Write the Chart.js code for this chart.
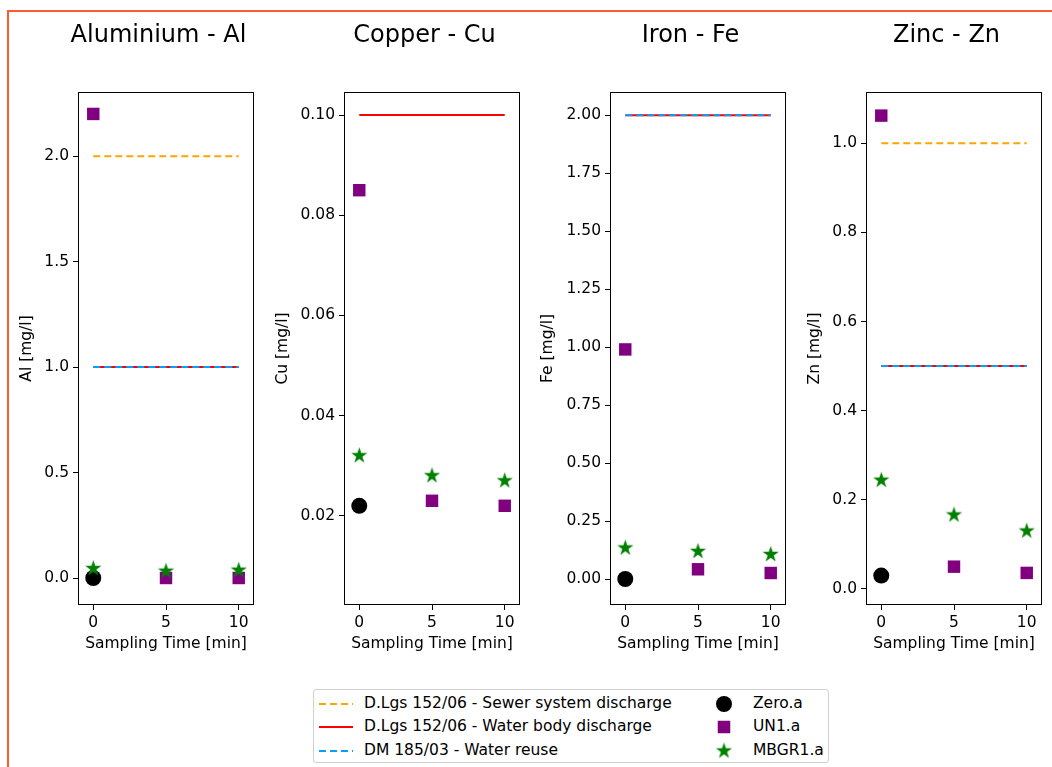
<!DOCTYPE html>
<html>
<head>
<meta charset="utf-8">
<script src="https://cdn.jsdelivr.net/npm/chart.js@4.4.1/dist/chart.umd.min.js"></script>
<style>
  body { margin: 0; background: #fff; width: 1052px; height: 767px; position: relative; overflow: hidden; font-family: 'DejaVu Sans', sans-serif; }
  #frameTop { position: absolute; left: 7px; top: 10px; width: 1045px; height: 2px; background: #ff5a30; }
  #frameLeft { position: absolute; left: 7px; top: 10px; width: 2px; height: 757px; background: #ff5a30; }
  canvas.panel { position: absolute; top: 0; }
  #legend { position: absolute; left: 313px; top: 689px; width: 516px; height: 74px; border: 1px solid #d0d0d0; border-radius: 3px; box-sizing: border-box; font-size: 15.5px; color: #000; }
  #legend .item { position: absolute; white-space: nowrap; line-height: 19px; }
  #legend canvas { position: absolute; }
</style>
</head>
<body>
<div id="frameTop"></div>
<div id="frameLeft"></div>
<canvas id="c0" class="panel"></canvas>
<canvas id="c1" class="panel"></canvas>
<canvas id="c2" class="panel"></canvas>
<canvas id="c3" class="panel"></canvas>
<div id="legend"></div>
<script>
// sampling times and names
const times = [0, 5, 10];
const zeroTimes = [0];
const panelTitles = ['Aluminium - Al', 'Copper - Cu', 'Iron - Fe', 'Zinc - Zn'];
const yLabels = ['Al [mg/l]', 'Cu [mg/l]', 'Fe [mg/l]', 'Zn [mg/l]'];
const xLabel = 'Sampling Time [min]';
const limitNames = ['D.Lgs 152/06 - Sewer system discharge', 'D.Lgs 152/06 - Water body discharge', 'DM 185/03 - Water reuse'];
const seriesNames = ['Zero.a', 'UN1.a', 'MBGR1.a'];

// limits: [sewer, water body, reuse]
const limitsAl = [2.0, 1.0, 1.0];
const limitsCu = [null, 0.10, null];
const limitsFe = [null, 2.0, 2.0];
const limitsZn = [1.0, 0.5, 0.5];

// measured values
const zeroAl = [0.0];
const un1Al = [2.2, 0.0, 0.0];
const mbgrAl = [0.045, 0.032, 0.037];

const zeroCu = [0.022];
const un1Cu = [0.085, 0.023, 0.022];
const mbgrCu = [0.032, 0.028, 0.027];

const zeroFe = [0.0];
const un1Fe = [0.99, 0.042, 0.026];
const mbgrFe = [0.134, 0.119, 0.106];

const zeroZn = [0.030];
const un1Zn = [1.062, 0.050, 0.036];
const mbgrZn = [0.244, 0.166, 0.130];

// tick labels
const xTicks = [0, 5, 10];
const ticksAl = [0, 0.5, 1.0, 1.5, 2.0];
const ticksCu = [0.02, 0.04, 0.06, 0.08, 0.10];
const ticksFe = [0, 0.25, 0.5, 0.75, 1.0, 1.25, 1.5, 1.75, 2.0];
const ticksZn = [0, 0.2, 0.4, 0.6, 0.8, 1.0];

const panels = [
  { limits: limitsAl, zero: zeroAl, un1: un1Al, mbgr: mbgrAl, ticks: ticksAl, dec: 1, yMin: -0.128, yMax: 2.304 },
  { limits: limitsCu, zero: zeroCu, un1: un1Cu, mbgr: mbgrCu, ticks: ticksCu, dec: 2, yMin: 0.0022, yMax: 0.1046 },
  { limits: limitsFe, zero: zeroFe, un1: un1Fe, mbgr: mbgrFe, ticks: ticksFe, dec: 2, yMin: -0.112, yMax: 2.10 },
  { limits: limitsZn, zero: zeroZn, un1: un1Zn, mbgr: mbgrZn, ticks: ticksZn, dec: 1, yMin: -0.036, yMax: 1.115 }
];

// placement of the four canvases
const boxes = [
  { left: 14, yW: 64 },
  { left: 270, yW: 74 },
  { left: 535, yW: 75 },
  { left: 802, yW: 64 }
];
const plotW = 176, plotTop = 92, plotBottom = 605, xAxisH = 52, padR = 10;

const limitColors = ['orange', 'red', '#0a9ff5'];
const limitDash = [[7, 4], [], [7, 4]];
const seriesColors = ['black', 'purple', 'green'];

Chart.defaults.font.family = "'DejaVu Sans', sans-serif";
Chart.defaults.font.size = 15.5;
Chart.defaults.color = '#000';

function makeStar(R, color) {
  const c = document.createElement('canvas');
  const s = Math.ceil(R * 2 + 2);
  c.width = s; c.height = s;
  const g = c.getContext('2d');
  g.fillStyle = color;
  g.beginPath();
  for (let k = 0; k < 10; k++) {
    const r = k % 2 ? R * 0.382 : R;
    const a = -Math.PI / 2 + k * Math.PI / 5;
    g.lineTo(s / 2 + r * Math.cos(a), s / 2 + r * Math.sin(a));
  }
  g.closePath();
  g.fill();
  return c;
}
const starImg = makeStar(8.5, 'green');

const panelDeco = {
  id: 'panelDeco',
  afterDraw(chart) {
    const { ctx, chartArea: a } = chart;
    ctx.save();
    ctx.strokeStyle = '#000';
    ctx.lineWidth = 1;
    ctx.strokeRect(Math.round(a.left) + 0.5, Math.round(a.top) + 0.5, Math.round(a.right - a.left) - 1, Math.round(a.bottom - a.top) - 1);
    ctx.font = "24px 'DejaVu Sans', sans-serif";
    ctx.fillStyle = '#000';
    ctx.textAlign = 'center';
    ctx.textBaseline = 'alphabetic';
    ctx.fillText(chart.options.plugins.panelDeco.title, (a.left + a.right) / 2 - 7.5, 42);
    ctx.restore();
  }
};

function pts(xs, ys) {
  return ys.map((v, i) => ({ x: xs[i], y: v }));
}

panels.forEach((p, i) => {
  const b = boxes[i];
  const cv = document.getElementById('c' + i);
  const w = b.yW + plotW + padR;
  const h = plotBottom + xAxisH;
  cv.width = w; cv.height = h;
  cv.style.left = b.left + 'px';
  cv.style.width = w + 'px';
  cv.style.height = h + 'px';

  const datasets = [];
  p.limits.forEach((v, k) => {
    if (v === null) return;
    datasets.push({
      label: limitNames[k],
      data: [{ x: times[0], y: v }, { x: times[times.length - 1], y: v }],
      showLine: true,
      borderColor: limitColors[k],
      borderWidth: 2,
      borderDash: limitDash[k],
      pointRadius: 0,
      order: 5 - k
    });
  });
  datasets.push({
    label: seriesNames[0], data: pts(zeroTimes, p.zero),
    pointStyle: 'circle', pointRadius: 8, backgroundColor: seriesColors[0], borderColor: seriesColors[0], borderWidth: 0, order: 2
  });
  datasets.push({
    label: seriesNames[1], data: pts(times, p.un1),
    pointStyle: 'rect', pointRadius: 8.8, backgroundColor: seriesColors[1], borderColor: seriesColors[1], borderWidth: 0, order: 1
  });
  datasets.push({
    label: seriesNames[2], data: pts(times, p.mbgr),
    pointStyle: starImg, backgroundColor: seriesColors[2], borderColor: seriesColors[2], order: 0
  });

  new Chart(cv, {
    type: 'scatter',
    data: { datasets },
    options: {
      responsive: false,
      animation: false,
      devicePixelRatio: 1,
      layout: { padding: { top: plotTop, right: padR, left: 0, bottom: 0 } },
      plugins: { legend: { display: false }, tooltip: { enabled: false }, panelDeco: { title: panelTitles[i] } },
      scales: {
        x: {
          type: 'linear', min: -1.05, max: 11.05,
          afterBuildTicks: s => { s.ticks = xTicks.map(v => ({ value: v })); },
          afterFit: s => { s.height = xAxisH; },
          ticks: { padding: 4, autoSkip: false, maxRotation: 0, callback: v => String(v) },
          grid: { drawOnChartArea: false, drawTicks: true, tickLength: 5, tickColor: '#000' },
          border: { display: false },
          title: { display: true, text: xLabel, padding: { top: 4, bottom: 4 } }
        },
        y: {
          type: 'linear', min: p.yMin, max: p.yMax,
          afterBuildTicks: s => { s.ticks = p.ticks.map(v => ({ value: v })); },
          afterFit: s => { s.width = b.yW; },
          ticks: { padding: 4, autoSkip: false, callback: v => v.toFixed(p.dec) },
          grid: { drawOnChartArea: false, drawTicks: true, tickLength: 5, tickColor: '#000' },
          border: { display: false },
          title: { display: true, text: yLabels[i], padding: { top: 4, bottom: 4 } }
        }
      }
    },
    plugins: [panelDeco]
  });
});

// legend built from the same names and styles
const legendEl = document.getElementById('legend');
const rowY = [13.5, 37, 60.5];
limitNames.forEach((name, k) => {
  const c = document.createElement('canvas');
  c.width = 34; c.height = 6;
  c.style.left = '5px';
  c.style.top = (rowY[k] - 3) + 'px';
  const g = c.getContext('2d');
  g.strokeStyle = limitColors[k];
  g.lineWidth = 2;
  g.setLineDash(limitDash[k]);
  g.beginPath(); g.moveTo(0, 3); g.lineTo(34, 3); g.stroke();
  legendEl.appendChild(c);
  const t = document.createElement('div');
  t.className = 'item';
  t.textContent = name;
  t.style.left = '50px';
  t.style.top = (rowY[k] - 10) + 'px';
  legendEl.appendChild(t);
});
seriesNames.forEach((name, k) => {
  const c = document.createElement('canvas');
  c.width = 20; c.height = 20;
  c.style.left = (410 - 10) + 'px';
  c.style.top = (rowY[k] - 10) + 'px';
  const g = c.getContext('2d');
  g.fillStyle = seriesColors[k];
  if (k === 0) { g.beginPath(); g.arc(10, 10, 8, 0, Math.PI * 2); g.fill(); }
  else if (k === 1) { g.fillRect(10 - 6.25, 10 - 6.25, 12.5, 12.5); }
  else { g.drawImage(starImg, 10 - starImg.width / 2, 10 - starImg.height / 2); }
  legendEl.appendChild(c);
  const t = document.createElement('div');
  t.className = 'item';
  t.textContent = name;
  t.style.left = '439px';
  t.style.top = (rowY[k] - 10) + 'px';
  legendEl.appendChild(t);
});
</script>
</body>
</html>
